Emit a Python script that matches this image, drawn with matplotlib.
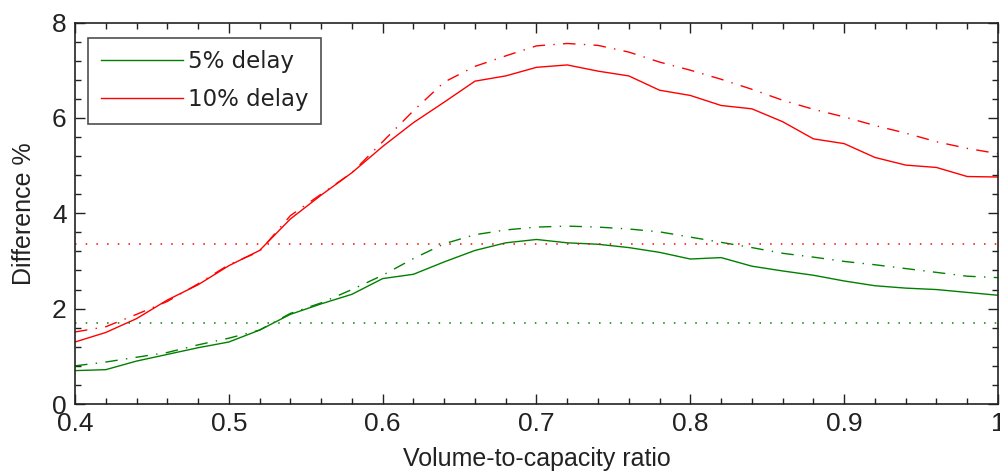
import matplotlib
matplotlib.use("Agg")
import matplotlib.pyplot as plt
from matplotlib.ticker import MultipleLocator

# ---- data ----
vc = [0.40, 0.42, 0.44, 0.46, 0.48, 0.50, 0.52, 0.54, 0.56, 0.58, 0.60,
      0.62, 0.64, 0.66, 0.68, 0.70, 0.72, 0.74, 0.76, 0.78, 0.80,
      0.82, 0.84, 0.86, 0.88, 0.90, 0.92, 0.94, 0.96, 0.98, 1.00]

red_solid = [1.30, 1.50, 1.79, 2.18, 2.50, 2.90, 3.22, 3.88, 4.38, 4.85, 5.40,
             5.90, 6.33, 6.77, 6.88, 7.06, 7.11, 6.98, 6.88, 6.58, 6.47,
             6.26, 6.19, 5.92, 5.56, 5.46, 5.17, 5.01, 4.96, 4.77, 4.76]
red_dashdot = [1.51, 1.62, 1.88, 2.15, 2.52, 2.92, 3.20, 3.95, 4.40, 4.85, 5.50,
               6.15, 6.75, 7.08, 7.30, 7.51, 7.56, 7.52, 7.38, 7.17, 7.00,
               6.81, 6.60, 6.37, 6.18, 6.02, 5.84, 5.68, 5.50, 5.36, 5.25]
green_solid = [0.70, 0.72, 0.90, 1.04, 1.18, 1.30, 1.55, 1.88, 2.10, 2.30, 2.63,
               2.72, 2.98, 3.22, 3.38, 3.45, 3.38, 3.35, 3.28, 3.18, 3.04,
               3.07, 2.89, 2.79, 2.70, 2.58, 2.48, 2.43, 2.40, 2.34, 2.28]
green_dashdot = [0.80, 0.88, 0.98, 1.08, 1.24, 1.38, 1.55, 1.90, 2.12, 2.40, 2.70,
                 3.05, 3.36, 3.55, 3.65, 3.71, 3.73, 3.71, 3.67, 3.61, 3.50,
                 3.39, 3.28, 3.16, 3.08, 2.99, 2.92, 2.84, 2.76, 2.68, 2.65]
red_ref = 3.36
green_ref = 1.69

legend_labels = ["5% delay", "10% delay"]
xticks = [0.4, 0.5, 0.6, 0.7, 0.8, 0.9, 1.0]
xticklabels = ["0.4", "0.5", "0.6", "0.7", "0.8", "0.9", "1"]
yticks = [0, 2, 4, 6, 8]

GREEN = "#008000"
RED = "#ff0000"
narrow = ["Liberation Sans Narrow", "Liberation Sans", "DejaVu Sans"]

fig = plt.figure(figsize=(10, 4.75), dpi=100)
ax = fig.add_axes([0.075, 1 - 404 / 475, 0.923, (404 - 22.5) / 475])

dashdot = (0, (9, 6, 1, 6))
dotted = (0, (1, 6))

ax.plot(vc, green_solid, color=GREEN, lw=1.0, label=legend_labels[0])
ax.plot(vc, red_solid, color=RED, lw=1.0, label=legend_labels[1])
ax.plot(vc, green_dashdot, color=GREEN, lw=1.0, linestyle=dashdot)
ax.plot(vc, red_dashdot, color=RED, lw=1.0, linestyle=dashdot)
ax.axhline(red_ref, color=RED, lw=1.1, linestyle=dotted)
ax.axhline(green_ref, color=GREEN, lw=1.1, linestyle=dotted)

ax.set_xlim(0.4, 1.0)
ax.set_ylim(0, 8)
ax.set_xticks(xticks)
ax.set_xticklabels(xticklabels)
ax.set_yticks(yticks)
ax.xaxis.set_minor_locator(MultipleLocator(0.02))
ax.yaxis.set_minor_locator(MultipleLocator(0.4))
ax.tick_params(which="both", direction="in", top=True, right=True,
               color="#222222", width=1.0)
ax.tick_params(which="major", length=7.5)
ax.tick_params(axis="x", which="major", pad=6)
ax.tick_params(axis="y", which="major", pad=6)
ax.tick_params(which="minor", length=4.5)
for lab in ax.get_xticklabels() + ax.get_yticklabels():
    lab.set_family(narrow)
    lab.set_fontsize(19)
    lab.set_color("#222222")
for s in ax.spines.values():
    s.set_linewidth(1.2)
    s.set_color("#222222")

ax.set_xlabel("Volume-to-capacity ratio", family=narrow, fontsize=18, color="#222222")
ax.set_ylabel("Difference %", family=narrow, fontsize=18, color="#222222")
ax.xaxis.set_label_coords(0.5, -0.112)
ax.yaxis.set_label_coords(-0.042, 0.5)

leg = ax.legend(loc="upper left", bbox_to_anchor=(0.0143, 0.96), fontsize=16.5,
                frameon=True, fancybox=False, handlelength=3.6, handletextpad=0.2,
                borderpad=0.55, labelspacing=0.65, borderaxespad=0)
leg.get_frame().set_edgecolor("#222222")
leg.get_frame().set_linewidth(1.2)
for t in leg.get_texts():
    t.set_color("#222222")

fig.savefig("out.png", dpi=100)
